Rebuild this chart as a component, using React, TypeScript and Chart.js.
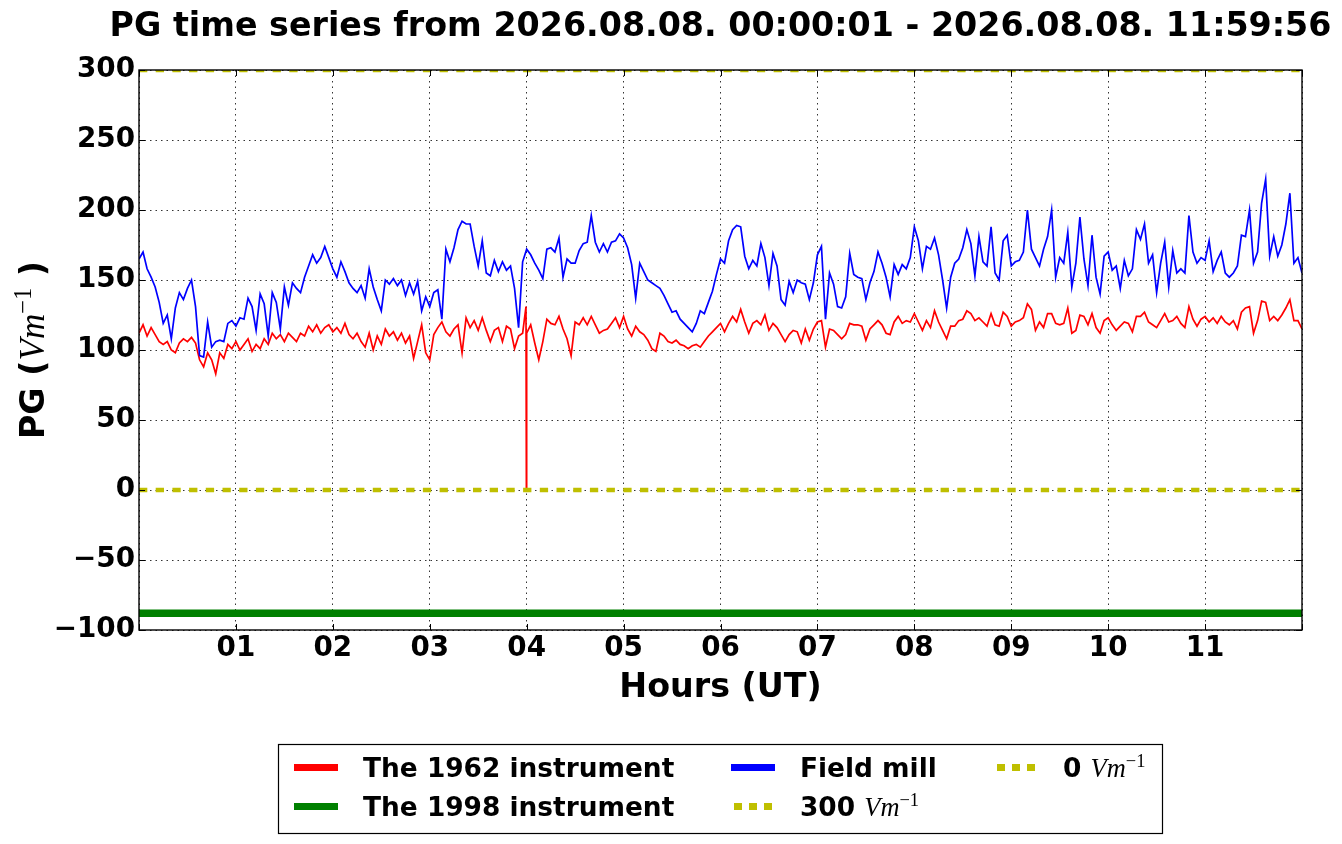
import React, { useEffect, useRef } from "react";
import { Chart, registerables } from "chart.js";

Chart.register(...registerables);

const TITLE = "PG time series from 2026.08.08. 00:00:01 - 2026.08.08. 11:59:56";

const SAMPLE_MINUTES = 2.5;

const fieldMill = [
  // 00-02 UT
  165, 170, 158, 152, 145, 134, 119, 125, 108, 130, 141, 136,
  144, 150, 131, 96, 95, 120, 102, 106, 107, 106, 119, 121,
  117, 123, 122, 137, 131, 114, 140, 133, 110, 141, 134, 115,
  145, 132, 148, 144, 141, 152, 160, 168, 162, 166, 174, 166,
  // 02-04 UT
  158, 152, 163, 156, 148, 144, 141, 146, 137, 158, 145, 136,
  128, 150, 147, 151, 146, 150, 139, 148, 140, 149, 128, 138,
  131, 141, 143, 122, 172, 163, 173, 186, 192, 190, 190, 174,
  160, 178, 155, 153, 164, 156, 163, 157, 160, 144, 116, 163,
  // 04-06 UT
  172, 168, 162, 157, 151, 172, 173, 170, 180, 152, 165, 162,
  162, 171, 176, 177, 196, 177, 170, 176, 170, 177, 178, 183,
  180, 173, 161, 137, 162, 156, 150, 148, 146, 144, 139, 133,
  127, 128, 122, 119, 116, 113, 119, 128, 126, 134, 142, 154,
  // 06-08 UT
  165, 162, 178, 186, 189, 188, 167, 158, 164, 160, 176, 166,
  146, 169, 160, 136, 132, 149, 141, 150, 148, 147, 136, 148,
  168, 174, 122, 155, 147, 131, 130, 138, 169, 154, 152, 151,
  136, 148, 156, 170, 162, 152, 138, 161, 154, 161, 158, 166,
  // 08-10 UT
  188, 178, 158, 174, 172, 180, 168, 150, 130, 152, 162, 165,
  173, 186, 176, 153, 181, 163, 160, 188, 155, 150, 178, 182,
  160, 163, 164, 170, 200, 172, 166, 160, 172, 181, 200, 152,
  166, 162, 184, 145, 162, 195, 165, 146, 182, 152, 140, 167,
  // 10-12 UT
  170, 157, 160, 144, 164, 153, 158, 186, 179, 190, 162, 168,
  141, 162, 177, 145, 171, 155, 158, 155, 196, 170, 162, 166,
  164, 178, 156, 164, 170, 155, 152, 155, 160, 182, 181, 200,
  162, 170, 205, 222, 167, 181, 167, 175, 190, 212, 162, 166,
  155,
];

const instrument1962 = [
  // 00-02 UT
  112, 118, 110, 116, 111, 106, 104, 106, 100, 98, 105, 108,
  106, 109, 105, 93, 88, 98, 93, 83, 98, 94, 104, 101,
  106, 100, 104, 108, 99, 104, 101, 108, 104, 112, 108, 111,
  106, 112, 109, 106, 112, 110, 117, 113, 118, 112, 116, 118,
  // 02-04 UT
  113, 116, 112, 119, 111, 108, 112, 106, 102, 112, 100, 110,
  104, 115, 110, 113, 107, 112, 105, 110, 94, 106, 118, 98,
  93, 111, 116, 120, 113, 110, 115, 118, 98, 123, 116, 121,
  114, 123, 114, 106, 114, 116, 106, 117, 115, 101, 110, 112,
  // 04-06 UT
  112, 118, 105, 93, 106, 122, 119, 118, 124, 115, 108, 96,
  120, 118, 123, 118, 124, 118, 112, 114, 115, 119, 123, 116,
  124, 115, 110, 117, 113, 111, 107, 101, 99, 112, 110, 106,
  105, 107, 104, 103, 101, 103, 104, 102, 106, 110, 113, 116,
  // 06-08 UT
  119, 113, 119, 124, 120, 129, 120, 112, 119, 121, 118, 125,
  114, 119, 116, 111, 106, 111, 114, 113, 105, 115, 107, 115,
  120, 121, 102, 115, 114, 111, 108, 111, 119, 118, 118, 117,
  107, 115, 118, 121, 118, 112, 111, 120, 124, 119, 121, 120,
  // 08-10 UT
  126, 120, 114, 121, 116, 128, 120, 114, 108, 117, 117, 121,
  122, 128, 126, 121, 123, 120, 117, 126, 118, 117, 127, 124,
  117, 120, 121, 123, 133, 129, 114, 120, 116, 126, 126, 119,
  118, 119, 130, 112, 114, 125, 124, 118, 126, 116, 112, 121,
  // 10-12 UT
  123, 118, 114, 117, 120, 119, 113, 124, 124, 127, 120, 118,
  116, 121, 126, 120, 121, 124, 119, 116, 131, 122, 117, 122,
  124, 120, 123, 119, 124, 120, 118, 121, 115, 127, 130, 131,
  112, 121, 135, 134, 121, 124, 121, 125, 130, 136, 121, 121,
  115,
];

// short drop-out of the 1962 instrument just before 04 UT
const dropoutHours = [3.993, 3.997];
const dropoutValues = [131, 0];

const instrument1998 = -88;
const referenceLevels = [300, 0];

const hourLabels = ["01", "02", "03", "04", "05", "06", "07", "08", "09", "10", "11"];

const BOLD = (px: number) => `bold ${px}px "DejaVu Sans"`;
const MATH = (px: number) => `italic ${px}px "Liberation Serif"`;
const MATH_UP = (px: number) => `${px}px "Liberation Serif"`;

type Seg = { text: string; font: string; rise?: number };

const unitSegs = (px: number): Seg[] => [
  { text: "Vm", font: MATH(px) },
  { text: "\u22121", font: MATH_UP(px * 0.7), rise: px * 0.38 },
];

function drawSegs(ctx: CanvasRenderingContext2D, segs: Seg[], x: number, y: number, center: boolean) {
  const widths = segs.map((s) => {
    ctx.font = s.font;
    return ctx.measureText(s.text).width;
  });
  let cx = center ? x - widths.reduce((a, b) => a + b, 0) / 2 : x;
  segs.forEach((s, i) => {
    ctx.font = s.font;
    ctx.fillText(s.text, cx, y - (s.rise || 0));
    cx += widths[i];
  });
}

const flat = (v: number) => [
  { x: 0, y: v },
  { x: 12, y: v },
];

const frame = {
  id: "frame",
  afterDatasetsDraw(chart: any) {
    const { ctx, chartArea: a, scales } = chart;
    ctx.save();
    ctx.strokeStyle = "#000";
    ctx.lineWidth = 1;
    ctx.beginPath();
    scales.y.ticks.forEach((t: any) => {
      const y = Math.round(scales.y.getPixelForValue(t.value)) + 0.5;
      ctx.moveTo(a.left, y);
      ctx.lineTo(a.left + 6, y);
      ctx.moveTo(a.right, y);
      ctx.lineTo(a.right - 6, y);
    });
    scales.x.ticks.forEach((t: any) => {
      const x = Math.round(scales.x.getPixelForValue(t.value)) + 0.5;
      ctx.moveTo(x, a.bottom);
      ctx.lineTo(x, a.bottom - 6);
      ctx.moveTo(x, a.top);
      ctx.lineTo(x, a.top + 6);
    });
    ctx.stroke();
    ctx.lineWidth = 1.4;
    ctx.strokeRect(a.left, a.top, a.right - a.left, a.bottom - a.top);
    ctx.restore();
  },
  afterDraw(chart: any) {
    const { ctx, chartArea: a } = chart;
    const mid = (a.left + a.right) / 2;
    ctx.save();
    ctx.fillStyle = "#000";
    ctx.textAlign = "left";
    ctx.textBaseline = "alphabetic";

    drawSegs(ctx, [{ text: TITLE, font: BOLD(33.3) }], mid, 36, true);
    drawSegs(ctx, [{ text: "Hours (UT)", font: BOLD(33.3) }], mid, 697, true);

    ctx.save();
    ctx.translate(44, (a.top + a.bottom) / 2);
    ctx.rotate(-Math.PI / 2);
    drawSegs(
      ctx,
      [{ text: "PG (", font: BOLD(33.3) }, ...unitSegs(35), { text: " )", font: BOLD(33.3) }],
      0,
      0,
      true
    );
    ctx.restore();

    // legend, three columns filled top to bottom
    const boxW = 884;
    const boxL = mid - boxW / 2;
    const boxT = 744.5;
    ctx.fillStyle = "#fff";
    ctx.fillRect(boxL, boxT, boxW, 89);
    ctx.strokeStyle = "#000";
    ctx.lineWidth = 1.2;
    ctx.strokeRect(boxL, boxT, boxW, 89);
    const cols = [15.5, 452.5, 715.5];
    const rows = [767.5, 806.5];
    chart.data.datasets.forEach((ds: any, i: number) => {
      const hx = boxL + cols[Math.floor(i / 2)];
      const hy = rows[i % 2];
      ctx.save();
      ctx.strokeStyle = ds.borderColor;
      ctx.lineWidth = 7;
      ctx.beginPath();
      if (ds.borderDash) {
        ctx.setLineDash([8, 7]);
        ctx.moveTo(hx + 3, hy);
        ctx.lineTo(hx + 41, hy);
      } else {
        ctx.moveTo(hx, hy);
        ctx.lineTo(hx + 44, hy);
      }
      ctx.stroke();
      ctx.restore();
      ctx.fillStyle = "#000";
      const segs: Seg[] = ds.unit
        ? [{ text: ds.label + " ", font: BOLD(26.4) }, ...unitSegs(26.4)]
        : [{ text: ds.label, font: BOLD(26.4) }];
      drawSegs(ctx, segs, hx + 69, hy + 9.5, false);
    });
    ctx.restore();
  },
};

const formatTick = (v: number) => (v < 0 ? "\u2212" + Math.abs(v) : String(v));

export default function App() {
  const canvasRef = useRef<HTMLCanvasElement | null>(null);
  const chartRef = useRef<Chart | null>(null);

  useEffect(() => {
    document.body.style.margin = "0";
    if (!canvasRef.current) return;
    if (chartRef.current) chartRef.current.destroy();

    const hours = (i: number) => (i * SAMPLE_MINUTES) / 60;
    const millData = fieldMill.map((v, i) => ({ x: hours(i), y: v }));
    const oldData = instrument1962
      .map((v, i) => ({ x: hours(i), y: v }))
      .concat(dropoutHours.map((h, i) => ({ x: h, y: dropoutValues[i] })))
      .sort((p, q) => p.x - q.x);

    const grid = { color: "#000", lineWidth: 0.8, drawTicks: false };
    const border = { display: false, dash: [1.5, 4] };
    const tickFont = { family: '"DejaVu Sans"', size: 27.8, weight: "bold" as const };

    chartRef.current = new Chart(canvasRef.current, {
      type: "line",
      data: {
        datasets: [
          { label: "The 1962 instrument", data: oldData, borderColor: "#ff0000", borderWidth: 1.7, order: 5 },
          { label: "The 1998 instrument", data: flat(instrument1998), borderColor: "#008000", borderWidth: 7.5, order: 4 },
          { label: "Field mill", data: millData, borderColor: "#0000ff", borderWidth: 1.7, order: 3 },
          ...referenceLevels.map((lvl, i) => ({
            label: String(lvl),
            unit: true,
            data: flat(lvl),
            borderColor: "#bfbf00",
            borderWidth: 4.5,
            borderDash: [8.3, 8.4],
            order: 2 - i,
          })),
        ] as any,
      },
      options: {
        responsive: false,
        animation: false,
        events: [],
        layout: { padding: { left: 0, right: 40, top: 70, bottom: 0 } },
        elements: { point: { radius: 0 }, line: { tension: 0, borderCapStyle: "butt", borderJoinStyle: "miter" } },
        datasets: { line: { clip: 0 } } as any,
        plugins: { legend: { display: false }, tooltip: { enabled: false }, title: { display: false } },
        scales: {
          x: {
            type: "linear",
            min: 0,
            max: 12,
            afterFit: (s: any) => {
              s.height = 214;
            },
            ticks: {
              stepSize: 1,
              autoSkip: false,
              maxRotation: 0,
              padding: 2,
              color: "#000",
              font: tickFont,
              callback: (v: any) => hourLabels[Number(v) - 1] ?? "",
            },
            grid,
            border,
          },
          y: {
            min: -100,
            max: 300,
            afterFit: (s: any) => {
              s.width = 139;
            },
            ticks: {
              stepSize: 50,
              padding: 4,
              color: "#000",
              font: tickFont,
              callback: (v: any) => formatTick(Number(v)),
            },
            grid,
            border,
          },
        },
      },
      plugins: [frame],
    });

    return () => {
      if (chartRef.current) {
        chartRef.current.destroy();
        chartRef.current = null;
      }
    };
  }, []);

  return (
    <div style={{ width: 1342, height: 844, background: "#fff" }}>
      <canvas ref={canvasRef} width={1342} height={844} style={{ display: "block" }} />
    </div>
  );
}
